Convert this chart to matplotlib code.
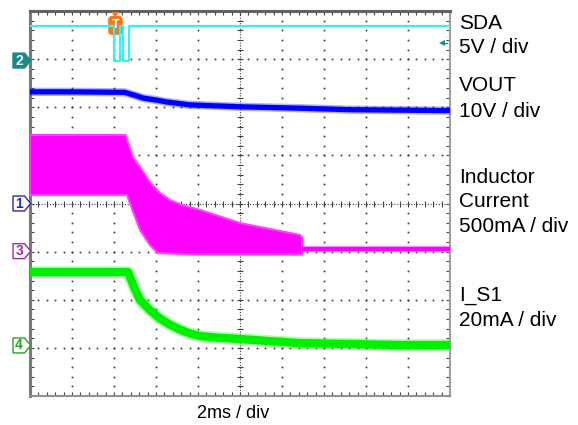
import numpy as np
import matplotlib.pyplot as plt
from matplotlib.patches import Polygon

plt.rcParams['font.family'] = ['Liberation Sans', 'DejaVu Sans']

# time base: 2 ms/div, 10 div, t = 0 at left edge of screen
# channel settings (units per div, ground position in div)
sda_scale, sda_offset = 5.0, 2.97      # V
vout_scale, vout_offset = 10.0, 0.0    # V
il_scale, il_offset = 500.0, -0.99     # mA
is1_scale, is1_offset = 20.0, -2.95    # mA

# SDA (ch2)
sda_t = [0, 4.01, 4.29, 4.43, 4.71, 20]
sda_v = [3.6, 0.0, 3.6, 0.0, 3.6, 3.6]
trig_t = 4.05
trig_level = 1.85

# VOUT (ch1)
vout_t = [0, 2, 4.5, 4.9, 5.4, 6.0, 6.5, 7.6, 8.8, 10, 12.9, 15.2, 17.6, 20]
vout_v = [23.2, 23.2, 23.1, 22.6, 21.9, 21.5, 21.1, 20.5, 20.3, 20.1, 19.8, 19.5, 19.4, 19.3]

# inductor current (ch3): switching envelope, then DC
il_hi_t = [0, 2, 4.55, 4.90, 5.24, 5.71, 6.19, 6.67, 7.3, 8.10, 10.0, 11.43, 12.86, 12.95]
il_hi = [1207, 1207, 1207, 978, 875, 718, 604, 531, 475, 428, 292, 230, 168, 147]
il_lo_t = [0, 2, 4.62, 4.76, 5.24, 5.71, 6.10, 8.0, 10.0, 12.95]
il_lo = [583, 583, 583, 500, 220, 64, -20, -35, -35, -35]
il_dc_t = [12.95, 20]
il_dc = [22, 22]

# I_S1 (ch4)
is1_t = [0, 2, 4.67, 4.95, 5.24, 5.71, 6.19, 6.67, 7.14, 7.62, 8.1, 9.0, 10, 11.4, 12.9, 15.2, 17.6, 20]
is1_ma = [30.5, 30.5, 30.5, 24.3, 18.9, 14.7, 11.2, 8.6, 6.6, 5.0, 3.9, 3.2, 2.7, 1.8, 1.0, 0.6, 0.2, 0.2]

labels = [("SDA", 29), ("5V / div", 53), ("VOUT", 91), ("10V / div", 117),
          ("Inductor", 183), ("Current", 207), ("500mA / div", 232),
          ("I_S1", 301), ("20mA / div", 326)]

W, H = 578, 425
fig = plt.figure(figsize=(W / 100, H / 100), dpi=100)
pos = [30 / W, (H - 396) / H, 420 / W, 385 / H]
ax = fig.add_axes(pos)
ax.set_xlim(0, 20)
ax.set_ylim(-4, 4)
ax.set_xticks(np.arange(0, 20.01, 2))
ax.set_xticks(np.arange(0, 20.01, 0.4), minor=True)
ax.set_yticks(np.arange(-4, 4.01, 1))
ax.set_yticks(np.arange(-4, 4.01, 0.2), minor=True)
ax.tick_params(which='both', direction='in', top=True, right=True,
               labelbottom=False, labelleft=False, length=3, width=0.8,
               color='#404040')
ax.spines['left'].set(color='#7a7a7a', lw=2.2)
ax.spines['top'].set(color='#606060', lw=2.2)
ax.spines['right'].set(color='#a0a0a0', lw=1.5)
ax.spines['bottom'].set(color='#909090', lw=1.5)

# graticule dots
dot = dict(ls='none', marker='s', ms=1.2, color='#303030', mew=0)
for xv in np.arange(2, 20, 2):
    if xv != 10:
        ax.plot(np.full(41, xv), np.arange(-4, 4.01, 0.2), **dot)
for yv in range(-3, 4):
    if yv != 0:
        ax.plot(np.arange(0, 20.01, 0.4), np.full(51, yv), **dot)
ax.axhline(0, ls=(0, (1, 1.5)), lw=0.8, color='#404040')
ax.axvline(10, ls=(0, (1, 1.5)), lw=0.8, color='#404040')
ax.plot(np.arange(0, 20.01, 0.4), np.zeros(51), ls='none', marker='|',
        ms=4, mew=0.8, color='#404040')
ax.plot(np.full(41, 10), np.arange(-4, 4.01, 0.2), ls='none', marker='_',
        ms=4, mew=0.8, color='#404040')


def channel_axes(scale, offset):
    c = fig.add_axes(pos, sharex=ax)
    c.set_ylim((-4 - offset) * scale, (4 - offset) * scale)
    c.axis('off')
    c.patch.set_visible(False)
    return c


# SDA
c2 = channel_axes(sda_scale, sda_offset)
c2.step(sda_t, sda_v, where='post', color='#38f0f0', lw=1.6)

# VOUT
c1 = channel_axes(vout_scale, vout_offset)
c1.plot(vout_t, vout_v, color='#2020ff', lw=6, alpha=0.35, solid_capstyle='butt')
c1.plot(vout_t, vout_v, color='#0000ff', lw=3.8, solid_capstyle='butt')

# inductor current
c3 = channel_axes(il_scale, il_offset)
c3.fill(np.r_[il_hi_t, il_lo_t[::-1]], np.r_[il_hi, il_lo[::-1]],
        fc='#ff00ff', ec='#ff40ff', lw=1.5, alpha=1)
c3.plot(il_dc_t, il_dc, color='#ff00ff', lw=4.5, alpha=0.4, solid_capstyle='butt')
c3.plot(il_dc_t, il_dc, color='#ff00ff', lw=3, solid_capstyle='butt')

# I_S1
c4 = channel_axes(is1_scale, is1_offset)
c4.plot(is1_t, is1_ma, color='#20ff20', lw=8.5, alpha=0.35, solid_capstyle='butt')
c4.plot(is1_t, is1_ma, color='#00f000', lw=6, solid_capstyle='butt')

# trigger level marker on the right edge
c2.plot([19.55, 19.85], [trig_level, trig_level], color='#1a9090', lw=1)
c2.plot([19.6], [trig_level], marker='<', ms=4.5, color='#1a9090', mew=0)

# trigger position marker
ax.add_patch(Polygon([(3.88, 3.98), (4.24, 3.98), (4.06, 3.86)], closed=True,
                     fc='#f27a1e', ec='none', clip_on=False, zorder=6))
ax.text(trig_t + 0.02, 3.70, 'T', color='white', fontsize=9, fontweight='bold',
        ha='center', va='center', zorder=7,
        bbox=dict(boxstyle='round,pad=0.22', fc='#f27a1e', ec='#f27a1e'))


def ch_marker(y, label, edge, face, txt):
    h = 0.155
    pts = [(-0.81, y - h), (-0.26, y - h), (0.03, y), (-0.26, y + h), (-0.81, y + h)]
    ax.add_patch(Polygon(pts, closed=True, fc=face, ec=edge, lw=1,
                         clip_on=False, zorder=5))
    ax.text(-0.52, y, label, color=txt, ha='center', va='center',
            fontsize=10, fontweight='bold', clip_on=False, zorder=6)


ch_marker(sda_offset, '2', '#178a8a', '#178a8a', 'white')
ch_marker(vout_offset, '1', '#2a2aa8', 'white', '#2a2aa8')
ch_marker(il_offset, '3', '#a02ca0', 'white', '#a02ca0')
ch_marker(is1_offset, '4', '#2ca02c', 'white', '#2ca02c')

for s, yb in labels:
    fig.text(459 / W, 1 - yb / H, s, fontsize=15, va='baseline', ha='left')
fig.text(233 / W, 1 - 418 / H, '2ms / div', fontsize=13, va='baseline', ha='center')

fig.savefig('out.png', dpi=100)
